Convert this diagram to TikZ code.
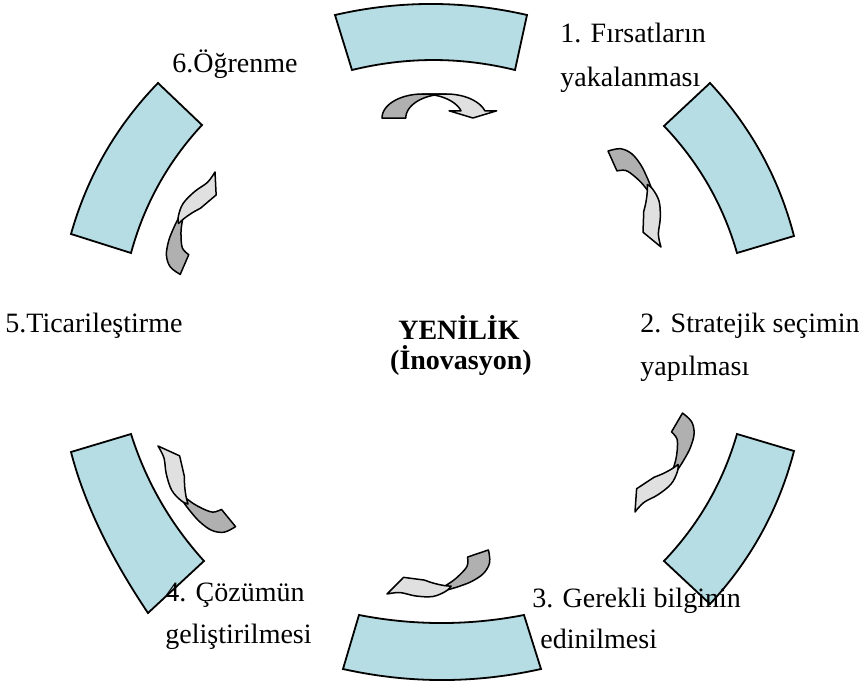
\documentclass[tikz,border=0pt]{standalone}
\usepackage{fontspec}
\setmainfont{Liberation Serif}
\definecolor{segfill}{HTML}{B6DDE3}
\definecolor{arrdark}{HTML}{B0B0B0}
\definecolor{arrlight}{HTML}{E0E0E0}
\tikzset{
  segment/.style={draw=black, line width=0.9pt, fill=segfill, line join=miter},
  darkpart/.style={draw=black, line width=0.75pt, fill=arrdark, line join=round},
  lightpart/.style={draw=black, line width=0.75pt, fill=arrlight, line join=round},
  txt/.style={anchor=base west, inner sep=0pt, font=\fontsize{14}{17}\selectfont},
  heading/.style={anchor=base, inner sep=0pt, font=\bfseries\fontsize{14}{17}\selectfont},
}
% Flat twisted arrow (top): #1,#2 = foot corner, #3,#4 = local x axis, #5,#6 = local y axis (pixel units)
\newcommand\flatarrow[6]{%
  \begin{scope}[shift={({(#1)*0.5pt},{-(#2)*0.5pt})},
                x={({(#3)*0.5pt},{-(#4)*0.5pt})},
                y={({(#5)*0.5pt},{-(#6)*0.5pt})}]
    \filldraw[darkpart]
      plot[domain=180:90,samples=18] ({0.34+0.34*cos(\x)},{sin(\x)})
      -- plot[domain=90:180,samples=18] ({0.54+0.34*cos(\x)},{sin(\x)}) -- cycle;
    \filldraw[lightpart]
      plot[domain=90:17.46,samples=18] ({0.34+0.34*cos(\x)},{sin(\x)})
      -- (0.564,0.3) -- (0.764,0) -- (0.964,0.3)
      -- plot[domain=17.46:90,samples=18] ({0.54+0.34*cos(\x)},{sin(\x)}) -- cycle;
  \end{scope}}
% Twisted arrow running from the foot centre (#1,#2) to the tip (#3,#4), bulging outwards
\newcommand\bentarrow[4]{%
  \begin{scope}[shift={({(#1)*0.5pt},{-(#2)*0.5pt})},
                x={({((#3)-(#1))*0.5pt},{-((#4)-(#2))*0.5pt})},
                y={({((#4)-(#2))*0.5pt},{((#3)-(#1))*0.5pt})}]
    \filldraw[darkpart]
      plot[smooth,tension=0.6] coordinates {(-0.11,0.01) (-0.07,0.13) (0.03,0.205)
        (0.17,0.23) (0.30,0.225) (0.42,0.21) (0.50,0.19)}
      -- plot[smooth,tension=0.6] coordinates {(0.50,0.19) (0.44,0.165) (0.35,0.15)
        (0.25,0.12) (0.15,0.07) (0.11,-0.01)} -- cycle;
    \filldraw[lightpart]
      plot[smooth,tension=0.6] coordinates {(0.38,0.19) (0.45,0.215) (0.59,0.21)
        (0.745,0.135) (0.875,0.04) (1,0)}
      -- (0.78,-0.085) -- (0.60,0.025)
      -- plot[smooth,tension=0.6] coordinates {(0.60,0.025) (0.53,0.09) (0.45,0.15) (0.38,0.19)}
      -- cycle;
  \end{scope}}
\begin{document}
\begin{tikzpicture}[x=0.5pt,y=-0.5pt]
\useasboundingbox (0,0) rectangle (859,686);

% ring segments
\draw[segment] (335,15) .. controls (399,0.3) and (463,0.3) .. (527,15) -- (515,70)
  .. controls (460.7,56.7) and (406.3,56.7) .. (352,70) -- cycle;
\draw[segment] (710,83) .. controls (750.9,126.9) and (778.9,177.9) .. (794,236) -- (737,253)
  .. controls (723.1,204.7) and (698.7,162.3) .. (664,126) -- cycle;
\draw[segment] (710,604) .. controls (750.9,560.1) and (778.9,509.1) .. (794,451) -- (737,434)
  .. controls (723.1,482.3) and (698.7,524.7) .. (664,561) -- cycle;
\draw[segment] (343,669) .. controls (409,683.7) and (475,683.7) .. (541,669) -- (524,615)
  .. controls (469,625.7) and (414,625.7) .. (359,615) -- cycle;
\draw[segment] (71,452) .. controls (84,502.3) and (109.7,556) .. (148,613) -- (204,561)
  .. controls (170.5,524) and (146.1,481.7) .. (131,434) -- cycle;
\draw[segment] (158,83) .. controls (116.3,126) and (87.3,176.3) .. (71,234) -- (131,253)
  .. controls (144.2,204.5) and (167.9,161.8) .. (202,125) -- cycle;

% arrows between the segments
\flatarrow{382}{118}{119}{0}{0}{-24}
\bentarrow{612.5}{161}{661}{247}
\bentarrow{677}{422.5}{635}{512}
\bentarrow{478}{553.5}{387}{594}
\bentarrow{228.5}{518}{158}{446}
\bentarrow{184.5}{264.5}{215}{172}

% labels
\node[txt] (s1a) at (560,42) {1. Fırsatların};
\node[txt] (s1b) at (560,86) {yakalanması};
\node[txt] (s2a) at (640,332) {2. Stratejik seçimin};
\node[txt] (s2b) at (640,375) {yapılması};
\node[txt] (s3a) at (532,607) {3. Gerekli bilginin};
\node[txt] (s3b) at (540,648) {edinilmesi};
\node[txt] (s4a) at (165,601) {4. Çözümün};
\node[txt] (s4b) at (165,643) {geliştirilmesi};
\node[txt] (s5) at (5,332) {5.Ticarileştirme};
\node[txt] (s6) at (172,72) {6.Öğrenme};
\node[heading] (h1) at (459,339) {YENİLİK};
\node[heading] (h2) at (461,369) {(İnovasyon)};
\end{tikzpicture}
\end{document}
